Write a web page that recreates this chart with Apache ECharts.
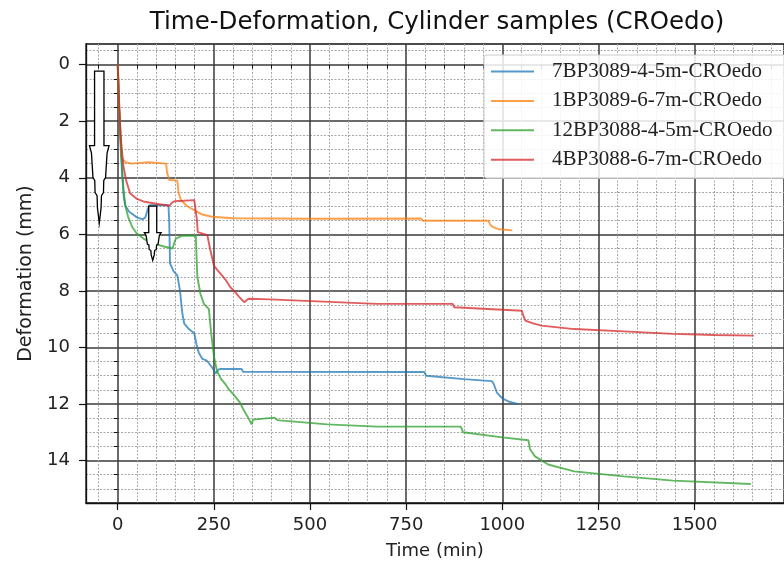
<!DOCTYPE html>
<html>
<head>
<meta charset="utf-8">
<title>Time-Deformation, Cylinder samples</title>
<script src="https://cdn.jsdelivr.net/npm/echarts@6/dist/echarts.min.js"></script>
<style>
  html, body { margin: 0; padding: 0; background: #fff; }
  #chart { width: 784px; height: 567px; }
</style>
</head>
<body>
<div id="chart"></div>
<script>
// series names (legend order)
var names = ['7BP3089-4-5m-CROedo', '1BP3089-6-7m-CROedo', '12BP3088-4-5m-CROedo', '4BP3088-6-7m-CROedo'];

// [time (min), deformation (mm)]
var blue = [[0,0],[4,1.8],[8,3.0],[12,4.0],[16,4.7],[20,5.0],[30,5.2],[50,5.4],[65,5.47],[72,5.4],[78,5.1],[83,4.97],
  [132,4.97],[134,5.6],[136,7.03],[145,7.3],[155,7.45],[162,8.0],[168,8.8],[173,9.16],[185,9.35],[199,9.5],[205,9.9],
  [211,10.2],[220,10.4],[232,10.47],[245,10.7],[255,10.92],[262,10.78],[268,10.76],[322,10.76],[326,10.86],[797,10.87],
  [802,11.0],[900,11.12],[973,11.19],[978,11.3],[986,11.6],[1000,11.8],[1020,11.93],[1040,12.0]];
var orange = [[0,0],[4,1.6],[8,2.8],[10,3.3],[20,3.45],[36,3.5],[80,3.45],[126,3.5],[128,3.8],[134,4.08],[155,4.1],
  [158,4.5],[164,4.79],[180,5.0],[199,5.15],[220,5.3],[245,5.38],[300,5.43],[500,5.45],[789,5.44],[793,5.52],[964,5.52],
  [968,5.65],[975,5.74],[990,5.82],[1026,5.86]];
var green = [[0,0],[4,1.5],[8,2.7],[12,3.8],[15,4.43],[20,5.0],[27,5.38],[38,5.75],[49,5.96],[70,6.18],[92,6.32],
  [120,6.43],[143,6.5],[147,6.3],[151,6.15],[168,6.05],[203,6.05],[205,6.8],[207,7.51],[215,8.1],[224,8.46],[237,8.64],
  [243,9.5],[250,10.3],[258,10.83],[268,11.1],[280,11.3],[290,11.5],[301,11.66],[318,11.95],[329,12.25],[340,12.5],
  [348,12.72],[352,12.55],[357,12.48],[408,12.48],[414,12.56],[421,12.58],[545,12.72],[674,12.8],[892,12.8],[898,13.0],
  [1000,13.18],[1068,13.28],[1072,13.6],[1085,13.85],[1119,14.14],[1187,14.38],[1316,14.56],[1444,14.71],[1646,14.83]];
var red = [[0,0],[4,1.5],[8,2.6],[12,3.2],[15,3.6],[22,4.1],[32,4.55],[50,4.75],[70,4.85],[100,4.92],[134,4.99],
  [140,4.9],[147,4.83],[199,4.79],[203,4.8],[206,5.5],[208,5.92],[233,6.03],[240,6.5],[250,7.1],[258,7.25],[271,7.45],
  [280,7.6],[293,7.87],[306,8.05],[315,8.2],[329,8.4],[333,8.4],[340,8.28],[396,8.3],[400,8.37],[674,8.46],[871,8.46],
  [875,8.58],[1051,8.7],[1054,8.85],[1060,9.05],[1080,9.15],[1102,9.23],[1187,9.35],[1316,9.43],[1444,9.52],
  [1550,9.56],[1654,9.58]];

// hollow arrows: [time, top, tip, width scale]
var arrows = [[-48, 0.23, 5.6, 1.0], [91, 5.0, 6.92, 0.85]];

var colors = ['#1f77b4', '#ff7f0e', '#2ca02c', '#d62728'];

// ticks
var xMajor = [0, 250, 500, 750, 1000, 1250, 1500];
var yMajor = [0, 2, 4, 6, 8, 10, 12, 14];
var xMinor = [];
for (var i = -1; i <= 34; i++) { if (i % 5 !== 0) xMinor.push(i * 50); }
var yMinor = [];
for (var j = -1; j <= 31; j++) { if (j % 4 !== 0) yMinor.push(j * 0.5); }

var xMin = -82.5, xMax = 1732.5, yMin = -0.73, yMax = 15.5;
var font = 'DejaVu Sans';
var plain = function (v) { return String(v); };

var chart = echarts.init(document.getElementById('chart'));

var lineSeries = [blue, orange, green, red].map(function (d, k) {
  return {
    name: names[k],
    type: 'line',
    data: d,
    symbol: 'none',
    xAxisIndex: 0,
    yAxisIndex: 0,
    z: 3,
    lineStyle: { color: colors[k], width: 1.9, opacity: 0.75 },
    itemStyle: { color: colors[k], opacity: 0.75 }
  };
});

// arrow outline: [fraction of length, half width px]
var profile = [[0, 4.7], [0.49, 4.7], [0.49, 9.8], [0.54, 7.8], [0.70, 6.3], [0.72, 4.5], [0.80, 4.2],
  [0.82, 2.2], [0.9, 1.8], [1, 0]];

var arrowSeries = {
  type: 'custom',
  data: arrows,
  silent: true,
  z: 4,
  encode: { x: 0, y: [1, 2] },
  renderItem: function (params, api) {
    var top = api.coord([api.value(0), api.value(1)]);
    var tip = api.coord([api.value(0), api.value(2)]);
    var s = api.value(3);
    var L = tip[1] - top[1];
    var pts = [];
    profile.forEach(function (p) { pts.push([top[0] + p[1] * s, top[1] + p[0] * L]); });
    profile.slice(0, -1).reverse().forEach(function (p) { pts.push([top[0] - p[1] * s, top[1] + p[0] * L]); });
    return {
      type: 'polygon',
      shape: { points: pts },
      style: { fill: '#fff', stroke: '#000', lineWidth: 1.3 }
    };
  }
};

chart.setOption({
  animation: false,
  title: {
    text: 'Time-Deformation, Cylinder samples (CROedo)',
    left: 432,
    top: 5,
    textAlign: 'center',
    textStyle: { fontFamily: font, fontSize: 24.5, fontWeight: 'normal', color: '#111' }
  },
  grid: {
    left: 86, top: 44, width: 706, height: 459,
    show: true, borderColor: '#111', borderWidth: 1.3, backgroundColor: 'transparent'
  },
  legend: {
    data: names.map(function (n) { return { name: n, icon: 'path://M0,0H44V2H0Z' }; }),
    orient: 'vertical',
    left: 484,
    top: 55,
    padding: [6, 16, 8, 7],
    itemWidth: 43,
    itemHeight: 21,
    itemGap: 8.4,
    backgroundColor: 'rgba(255,255,255,0.85)',
    borderColor: '#ccc',
    borderWidth: 1,
    borderRadius: 3,
    textStyle: { fontFamily: 'Liberation Serif', fontSize: 21, color: '#222', padding: [0, 0, 0, 13] }
  },
  xAxis: [{
    type: 'value', min: xMin, max: xMax, position: 'bottom',
    name: 'Time (min)', nameLocation: 'middle', nameGap: 39,
    nameTextStyle: { fontFamily: font, fontSize: 18, color: '#222' },
    axisLine: { show: true, onZero: false, lineStyle: { color: '#111', width: 1.3 } },
    axisTick: { show: true, inside: false, length: 7, customValues: xMajor, lineStyle: { color: '#111', width: 1.2 } },
    axisLabel: { customValues: xMajor, formatter: plain, margin: 13, fontFamily: font, fontSize: 18, color: '#222' },
    splitLine: { show: true, lineStyle: { color: '#3a3a3a', width: 1.5 } }
  }, {
    type: 'value', min: xMin, max: xMax, position: 'bottom',
    axisLine: { show: false },
    axisTick: { show: true, inside: false, length: 4, customValues: xMinor, lineStyle: { color: '#111', width: 1 } },
    axisLabel: { show: false, customValues: xMinor },
    splitLine: { show: true, lineStyle: { color: '#a8a8a8', width: 1, type: [2, 1.5] } }
  }],
  yAxis: [{
    type: 'value', inverse: true, min: yMin, max: yMax, position: 'left',
    name: 'Deformation (mm)', nameLocation: 'middle', nameGap: 50, nameRotate: 90,
    nameTextStyle: { fontFamily: font, fontSize: 19, color: '#222' },
    axisLine: { show: true, onZero: false, lineStyle: { color: '#111', width: 1.3 } },
    axisTick: { show: true, inside: false, length: 7, customValues: yMajor, lineStyle: { color: '#111', width: 1.2 } },
    axisLabel: { customValues: yMajor, formatter: plain, margin: 16, fontFamily: font, fontSize: 18, color: '#222' },
    splitLine: { show: true, lineStyle: { color: '#3a3a3a', width: 1.5 } }
  }, {
    type: 'value', inverse: true, min: yMin, max: yMax, position: 'left',
    axisLine: { show: false },
    axisTick: { show: true, inside: false, length: 4, customValues: yMinor, lineStyle: { color: '#111', width: 1 } },
    axisLabel: { show: false, customValues: yMinor },
    splitLine: { show: true, lineStyle: { color: '#a8a8a8', width: 1, type: [2, 1.5] } }
  }],
  series: lineSeries.concat([arrowSeries])
});
</script>
</body>
</html>
